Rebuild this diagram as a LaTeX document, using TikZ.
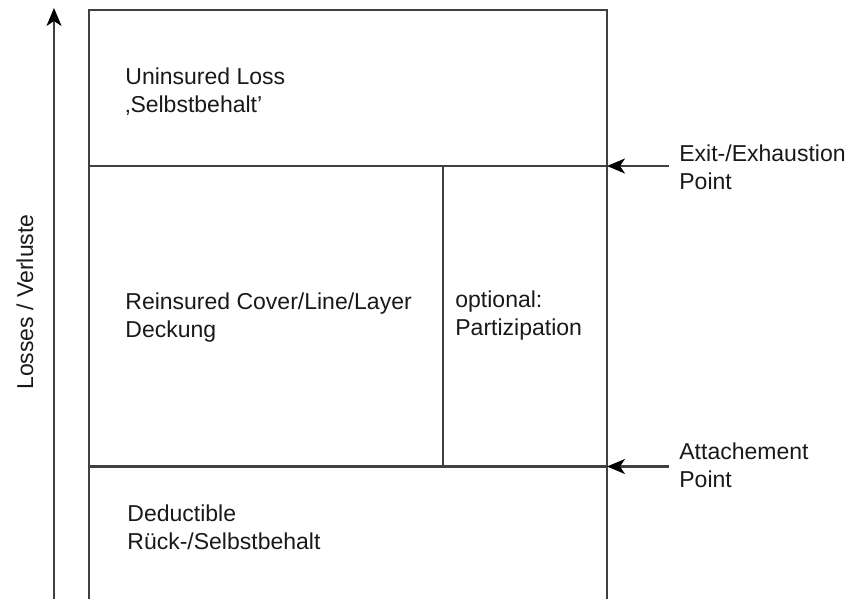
\documentclass[tikz,border=0pt]{standalone}
\usepackage{fontspec}
\setmainfont{Liberation Sans}
\usetikzlibrary{arrows.meta}
\begin{document}
\begin{tikzpicture}[x=0.5pt,y=-0.5pt,
  edge/.style={draw=black!75,line width=1.05pt},
  arr/.style={edge,-{Stealth[length=9pt,width=7.5pt,inset=2.5pt,fill=black,color=black]}},
  lbl/.style={anchor=base west,inner sep=0pt,align=left,
    font=\fontsize{11.5}{14}\selectfont,text=black!90}]
\useasboundingbox (0,0) rectangle (857,599);
% frame coordinates
\coordinate (TL) at (89,10);
\coordinate (TR) at (607,10);
\coordinate (BL) at (89,606);
\coordinate (BR) at (607,606);
\coordinate (ML) at (89,166);
\coordinate (MR) at (607,166);
\coordinate (AL) at (89,466.5);
\coordinate (AR) at (607,466.5);
\coordinate (DT) at (443,166);
\coordinate (DB) at (443,466.5);
\draw[edge] (BL) -- (TL) -- (TR) -- (BR) -- cycle;
\draw[edge] (ML) -- (MR);
\draw[edge] (AL) -- (AR);
\draw[edge] (DT) -- (DB);
% axis
\coordinate (axB) at (54,612);
\coordinate (axT) at (54,8);
\draw[arr] (axB) -- (axT);
\node[rotate=90,anchor=base,inner sep=0pt,font=\fontsize{11.5}{14}\selectfont,text=black!90] (axlbl) at (33,302) {Losses / Verluste};
% right arrows
\coordinate (exS) at (669,166);
\coordinate (atS) at (669,466.5);
\draw[arr] (exS) -- (MR);
\draw[arr] (atS) -- (AR);
% labels (anchored at the baseline of the last line)
\node[lbl] (unins) at (125,113) {Uninsured Loss\\‚Selbstbehalt’};
\node[lbl] (reins) at (125,337) {Reinsured Cover/Line/Layer\\Deckung};
\node[lbl] (opt) at (455,335) {optional:\\Partizipation};
\node[lbl] (ded) at (127,549) {Deductible\\Rück-/Selbstbehalt};
\node[lbl] (exit) at (679,190) {Exit-/Exhaustion\\Point};
\node[lbl] (att) at (679,487) {Attachement\\Point};
\end{tikzpicture}
\end{document}
